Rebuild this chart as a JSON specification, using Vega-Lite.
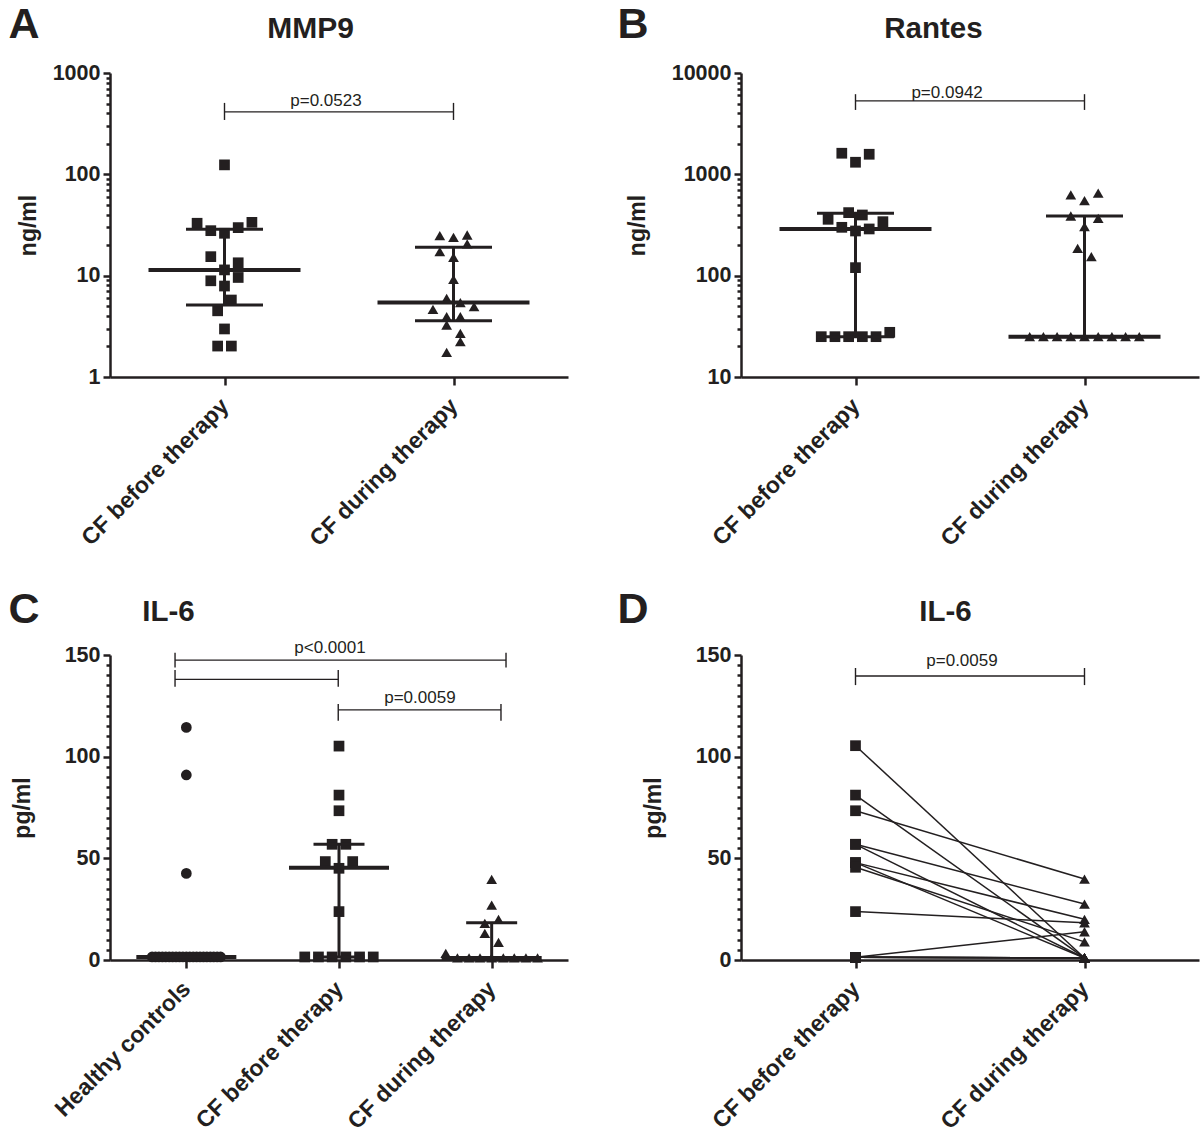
{
  "$schema": "https://vega.github.io/schema/vega-lite/v6.json",
  "background": "white",
  "padding": {"left": 8, "top": 3, "right": 1, "bottom": 4},
  "columns": 2,
  "spacing": {"row": 278, "column": 173},
  "bounds": "flush",
  "config": {
    "font": "Liberation Sans",
    "view": {"stroke": null},
    "axis": {"grid": false, "domainColor": "#231f20", "tickColor": "#231f20", "labelColor": "#231f20", "titleColor": "#231f20", "labelFont": "Liberation Sans", "titleFont": "Liberation Sans", "labelFontWeight": "bold", "titleFontWeight": "bold"}
  },
  "datasets": {
    "pts": [
      {"panel": "A", "group": "CF before therapy", "value": 124, "slot": 0},
      {"panel": "A", "group": "CF before therapy", "value": 32.9, "slot": -4},
      {"panel": "A", "group": "CF before therapy", "value": 33.6, "slot": 4},
      {"panel": "A", "group": "CF before therapy", "value": 27.8, "slot": -2},
      {"panel": "A", "group": "CF before therapy", "value": 29.8, "slot": 2},
      {"panel": "A", "group": "CF before therapy", "value": 26.2, "slot": 0},
      {"panel": "A", "group": "CF before therapy", "value": 15.4, "slot": -2},
      {"panel": "A", "group": "CF before therapy", "value": 13.4, "slot": 2},
      {"panel": "A", "group": "CF before therapy", "value": 11.4, "slot": 0},
      {"panel": "A", "group": "CF before therapy", "value": 8.9, "slot": -2},
      {"panel": "A", "group": "CF before therapy", "value": 9.6, "slot": 2},
      {"panel": "A", "group": "CF before therapy", "value": 7.9, "slot": 0},
      {"panel": "A", "group": "CF before therapy", "value": 5.75, "slot": 1},
      {"panel": "A", "group": "CF before therapy", "value": 4.5, "slot": -1},
      {"panel": "A", "group": "CF before therapy", "value": 2.98, "slot": 0},
      {"panel": "A", "group": "CF before therapy", "value": 2.02, "slot": -1},
      {"panel": "A", "group": "CF before therapy", "value": 2.02, "slot": 1},
      {"panel": "A", "group": "CF during therapy", "value": 24.8, "slot": -2},
      {"panel": "A", "group": "CF during therapy", "value": 23.9, "slot": 0},
      {"panel": "A", "group": "CF during therapy", "value": 25.2, "slot": 2},
      {"panel": "A", "group": "CF during therapy", "value": 20.6, "slot": 2},
      {"panel": "A", "group": "CF during therapy", "value": 17.3, "slot": -2},
      {"panel": "A", "group": "CF during therapy", "value": 15.2, "slot": 0},
      {"panel": "A", "group": "CF during therapy", "value": 9.2, "slot": 0},
      {"panel": "A", "group": "CF during therapy", "value": 5.98, "slot": -1},
      {"panel": "A", "group": "CF during therapy", "value": 5.42, "slot": 1},
      {"panel": "A", "group": "CF during therapy", "value": 4.66, "slot": -3},
      {"panel": "A", "group": "CF during therapy", "value": 4.94, "slot": 3},
      {"panel": "A", "group": "CF during therapy", "value": 3.94, "slot": -1},
      {"panel": "A", "group": "CF during therapy", "value": 3.94, "slot": 1},
      {"panel": "A", "group": "CF during therapy", "value": 3.26, "slot": -1},
      {"panel": "A", "group": "CF during therapy", "value": 2.7, "slot": 1},
      {"panel": "A", "group": "CF during therapy", "value": 2.23, "slot": 1},
      {"panel": "A", "group": "CF during therapy", "value": 1.75, "slot": -1},
      {"panel": "B", "group": "CF before therapy", "value": 1615, "slot": -2},
      {"panel": "B", "group": "CF before therapy", "value": 1578, "slot": 2},
      {"panel": "B", "group": "CF before therapy", "value": 1316, "slot": 0},
      {"panel": "B", "group": "CF before therapy", "value": 419, "slot": -1},
      {"panel": "B", "group": "CF before therapy", "value": 397, "slot": 1},
      {"panel": "B", "group": "CF before therapy", "value": 360, "slot": -4},
      {"panel": "B", "group": "CF before therapy", "value": 341, "slot": 4},
      {"panel": "B", "group": "CF before therapy", "value": 300, "slot": -2},
      {"panel": "B", "group": "CF before therapy", "value": 289, "slot": 2},
      {"panel": "B", "group": "CF before therapy", "value": 276, "slot": 0},
      {"panel": "B", "group": "CF before therapy", "value": 120, "slot": 0},
      {"panel": "B", "group": "CF before therapy", "value": 25, "slot": -5},
      {"panel": "B", "group": "CF before therapy", "value": 25, "slot": -3},
      {"panel": "B", "group": "CF before therapy", "value": 25, "slot": -1},
      {"panel": "B", "group": "CF before therapy", "value": 25, "slot": 1},
      {"panel": "B", "group": "CF before therapy", "value": 25, "slot": 3},
      {"panel": "B", "group": "CF before therapy", "value": 27.6, "slot": 5},
      {"panel": "B", "group": "CF during therapy", "value": 626, "slot": -2},
      {"panel": "B", "group": "CF during therapy", "value": 550, "slot": 0},
      {"panel": "B", "group": "CF during therapy", "value": 651, "slot": 2},
      {"panel": "B", "group": "CF during therapy", "value": 388, "slot": -2},
      {"panel": "B", "group": "CF during therapy", "value": 368, "slot": 2},
      {"panel": "B", "group": "CF during therapy", "value": 305, "slot": 0},
      {"panel": "B", "group": "CF during therapy", "value": 186, "slot": -1},
      {"panel": "B", "group": "CF during therapy", "value": 154, "slot": 1},
      {"panel": "B", "group": "CF during therapy", "value": 25, "slot": -8},
      {"panel": "B", "group": "CF during therapy", "value": 25, "slot": -6},
      {"panel": "B", "group": "CF during therapy", "value": 25, "slot": -4},
      {"panel": "B", "group": "CF during therapy", "value": 25, "slot": -2},
      {"panel": "B", "group": "CF during therapy", "value": 25, "slot": 0},
      {"panel": "B", "group": "CF during therapy", "value": 25, "slot": 2},
      {"panel": "B", "group": "CF during therapy", "value": 25, "slot": 4},
      {"panel": "B", "group": "CF during therapy", "value": 25, "slot": 6},
      {"panel": "B", "group": "CF during therapy", "value": 25, "slot": 8},
      {"panel": "C", "group": "Healthy controls", "value": 114.4, "slot": 0},
      {"panel": "C", "group": "Healthy controls", "value": 91, "slot": 0},
      {"panel": "C", "group": "Healthy controls", "value": 42.6, "slot": 0},
      {"panel": "C", "group": "Healthy controls", "value": 1.5, "slot": -5},
      {"panel": "C", "group": "Healthy controls", "value": 1.5, "slot": -4.5},
      {"panel": "C", "group": "Healthy controls", "value": 1.5, "slot": -4},
      {"panel": "C", "group": "Healthy controls", "value": 1.5, "slot": -3.5},
      {"panel": "C", "group": "Healthy controls", "value": 1.5, "slot": -3},
      {"panel": "C", "group": "Healthy controls", "value": 1.5, "slot": -2.5},
      {"panel": "C", "group": "Healthy controls", "value": 1.5, "slot": -2},
      {"panel": "C", "group": "Healthy controls", "value": 1.5, "slot": -1.5},
      {"panel": "C", "group": "Healthy controls", "value": 1.5, "slot": -1},
      {"panel": "C", "group": "Healthy controls", "value": 1.5, "slot": -0.5},
      {"panel": "C", "group": "Healthy controls", "value": 1.5, "slot": 0},
      {"panel": "C", "group": "Healthy controls", "value": 1.5, "slot": 0.5},
      {"panel": "C", "group": "Healthy controls", "value": 1.5, "slot": 1},
      {"panel": "C", "group": "Healthy controls", "value": 1.5, "slot": 1.5},
      {"panel": "C", "group": "Healthy controls", "value": 1.5, "slot": 2},
      {"panel": "C", "group": "Healthy controls", "value": 1.5, "slot": 2.5},
      {"panel": "C", "group": "Healthy controls", "value": 1.5, "slot": 3},
      {"panel": "C", "group": "Healthy controls", "value": 1.5, "slot": 3.5},
      {"panel": "C", "group": "Healthy controls", "value": 1.5, "slot": 4},
      {"panel": "C", "group": "Healthy controls", "value": 1.5, "slot": 4.5},
      {"panel": "C", "group": "Healthy controls", "value": 1.5, "slot": 5},
      {"panel": "C", "group": "CF before therapy", "value": 105.2, "slot": 0},
      {"panel": "C", "group": "CF before therapy", "value": 81.1, "slot": 0},
      {"panel": "C", "group": "CF before therapy", "value": 73.4, "slot": 0},
      {"panel": "C", "group": "CF before therapy", "value": 56.9, "slot": -1},
      {"panel": "C", "group": "CF before therapy", "value": 56.9, "slot": 1},
      {"panel": "C", "group": "CF before therapy", "value": 48.4, "slot": -2},
      {"panel": "C", "group": "CF before therapy", "value": 48.4, "slot": 2},
      {"panel": "C", "group": "CF before therapy", "value": 45.1, "slot": 0},
      {"panel": "C", "group": "CF before therapy", "value": 23.8, "slot": 0},
      {"panel": "C", "group": "CF before therapy", "value": 1.5, "slot": -5},
      {"panel": "C", "group": "CF before therapy", "value": 1.5, "slot": -3},
      {"panel": "C", "group": "CF before therapy", "value": 1.5, "slot": -1},
      {"panel": "C", "group": "CF before therapy", "value": 1.5, "slot": 1},
      {"panel": "C", "group": "CF before therapy", "value": 1.5, "slot": 3},
      {"panel": "C", "group": "CF before therapy", "value": 1.5, "slot": 5},
      {"panel": "C", "group": "CF during therapy", "value": 39.7, "slot": 0},
      {"panel": "C", "group": "CF during therapy", "value": 27, "slot": 0},
      {"panel": "C", "group": "CF during therapy", "value": 18, "slot": -1},
      {"panel": "C", "group": "CF during therapy", "value": 20, "slot": 1},
      {"panel": "C", "group": "CF during therapy", "value": 13.1, "slot": -1},
      {"panel": "C", "group": "CF during therapy", "value": 8.7, "slot": 1},
      {"panel": "C", "group": "CF during therapy", "value": 3.3, "slot": -6.7},
      {"panel": "C", "group": "CF during therapy", "value": 1, "slot": -5},
      {"panel": "C", "group": "CF during therapy", "value": 1, "slot": -3.3},
      {"panel": "C", "group": "CF during therapy", "value": 1, "slot": -1.7},
      {"panel": "C", "group": "CF during therapy", "value": 1, "slot": 0},
      {"panel": "C", "group": "CF during therapy", "value": 1, "slot": 1.7},
      {"panel": "C", "group": "CF during therapy", "value": 1, "slot": 3.3},
      {"panel": "C", "group": "CF during therapy", "value": 1, "slot": 5},
      {"panel": "C", "group": "CF during therapy", "value": 1, "slot": 6.7}
    ],
    "summ": [
      {"panel": "A", "group": "CF before therapy", "median": 11.4, "q1": 5.14, "q3": 28.7},
      {"panel": "A", "group": "CF during therapy", "median": 5.42, "q1": 3.6, "q3": 19.1},
      {"panel": "B", "group": "CF before therapy", "median": 289, "q1": 25, "q3": 413},
      {"panel": "B", "group": "CF during therapy", "median": 25, "q1": 25, "q3": 388},
      {"panel": "C", "group": "Healthy controls", "median": 1.5, "q1": 1.5, "q3": 1.5},
      {"panel": "C", "group": "CF before therapy", "median": 45.4, "q1": 1.5, "q3": 56.9},
      {"panel": "C", "group": "CF during therapy", "median": 1, "q1": 1, "q3": 18.3}
    ],
    "brk": [
      {"panel": "A", "from": 0, "to": 1, "y": 413, "lo": 344, "hi": 507, "tx": 0.443, "ty": 473, "label": "p=0.0523"},
      {"panel": "B", "from": 0, "to": 1, "y": 5310, "lo": 4320, "hi": 6180, "tx": 0.4, "ty": 5640, "label": "p=0.0942"},
      {"panel": "C", "from": -0.074, "to": 2.094, "y": 147.5, "lo": 143.9, "hi": 151.1, "tx": 0.941, "ty": 151, "label": "p<0.0001"},
      {"panel": "C", "from": -0.074, "to": 0.995, "y": 138, "lo": 134.4, "hi": 142.6, "tx": 0.5, "ty": 142, "label": ""},
      {"panel": "C", "from": 0.995, "to": 2.061, "y": 123, "lo": 117.7, "hi": 125.9, "tx": 1.53, "ty": 126.4, "label": "p=0.0059"},
      {"panel": "D", "from": 0, "to": 1, "y": 139.7, "lo": 135.2, "hi": 143.6, "tx": 0.465, "ty": 144.6, "label": "p=0.0059"}
    ],
    "pairs": [
      {"pair": 1, "group": "CF before therapy", "value": 105.4}, {"pair": 1, "group": "CF during therapy", "value": 1.0},
      {"pair": 2, "group": "CF before therapy", "value": 81.1}, {"pair": 2, "group": "CF during therapy", "value": 1.0},
      {"pair": 3, "group": "CF before therapy", "value": 73.4}, {"pair": 3, "group": "CF during therapy", "value": 39.8},
      {"pair": 4, "group": "CF before therapy", "value": 56.9}, {"pair": 4, "group": "CF during therapy", "value": 27.5},
      {"pair": 5, "group": "CF before therapy", "value": 56.9}, {"pair": 5, "group": "CF during therapy", "value": 1.0},
      {"pair": 6, "group": "CF before therapy", "value": 47.9}, {"pair": 6, "group": "CF during therapy", "value": 20.0},
      {"pair": 7, "group": "CF before therapy", "value": 47.9}, {"pair": 7, "group": "CF during therapy", "value": 1.0},
      {"pair": 8, "group": "CF before therapy", "value": 45.6}, {"pair": 8, "group": "CF during therapy", "value": 8.9},
      {"pair": 9, "group": "CF before therapy", "value": 23.8}, {"pair": 9, "group": "CF during therapy", "value": 18.3},
      {"pair": 10, "group": "CF before therapy", "value": 1.3}, {"pair": 10, "group": "CF during therapy", "value": 13.9},
      {"pair": 11, "group": "CF before therapy", "value": 1.3}, {"pair": 11, "group": "CF during therapy", "value": 1.0},
      {"pair": 12, "group": "CF before therapy", "value": 1.3}, {"pair": 12, "group": "CF during therapy", "value": 1.0},
      {"pair": 13, "group": "CF before therapy", "value": 1.3}, {"pair": 13, "group": "CF during therapy", "value": 1.0},
      {"pair": 14, "group": "CF before therapy", "value": 1.3}, {"pair": 14, "group": "CF during therapy", "value": 1.0},
      {"pair": 15, "group": "CF before therapy", "value": 1.3}, {"pair": 15, "group": "CF during therapy", "value": 1.0}
    ]
  },
  "concat": [
    {
      "width": 458, "height": 304,
      "resolve": {"scale": {"x": "independent"}, "axis": {"x": "independent", "y": "independent"}},
      "layer": [
        {
          "data": {"name": "pts"},
          "transform": [{"filter": "datum.panel === 'A'"}],
          "mark": {"type": "point", "filled": true, "size": 115, "opacity": 1, "color": "#231f20", "strokeWidth": 0},
          "encoding": {
            "x": {"field": "group", "type": "nominal", "scale": {"type": "point", "padding": 0.5, "domain": ["CF before therapy", "CF during therapy"]},
                  "axis": {"orient": "bottom", "title": null, "labelAngle": -45, "labelAlign": "right", "labelBaseline": "middle", "labelPadding": 17, "tickSize": 8, "tickWidth": 2.5, "domainWidth": 2.5, "labelFontSize": 23, "labelLimit": 500, "labelOverlap": false}},
            "xOffset": {"field": "slot", "type": "quantitative", "scale": {"domain": [-10, 10], "range": [-68.5, 68.5]}},
            "y": {"field": "value", "type": "quantitative", "scale": {"type": "log", "domain": [1, 1000], "nice": false},
                  "axis": {"orient": "left", "title": "ng/ml", "values": [1, 2, 3, 4, 5, 6, 7, 8, 9, 10, 20, 30, 40, 50, 60, 70, 80, 90, 100, 200, 300, 400, 500, 600, 700, 800, 900, 1000], "format": "d",
                           "labelExpr": "indexof([1, 10, 100, 1000], datum.value) >= 0 ? datum.label : ''",
                           "tickSize": {"condition": {"test": "indexof([1, 10, 100, 1000], datum.value) >= 0", "value": 7}, "value": 4},
                           "tickWidth": 2.5, "domainWidth": 2.5, "labelPadding": 3, "labelFontSize": 21.5, "titleFontSize": 23, "titlePadding": 12, "labelOverlap": false}},
            "shape": {"field": "group", "type": "nominal", "scale": {"domain": ["Healthy controls", "CF before therapy", "CF during therapy"], "range": ["circle", "square", "triangle-up"]}, "legend": null}
          }
        },
        {
          "data": {"name": "summ"},
          "transform": [{"filter": "datum.panel === 'A'"}],
          "mark": {"type": "tick", "orient": "horizontal", "size": 152, "thickness": 4, "opacity": 1, "color": "#231f20"},
          "encoding": {
            "x": {"field": "group", "type": "nominal", "scale": {"type": "point", "padding": 0.5, "domain": ["CF before therapy", "CF during therapy"]}, "axis": null},
            "y": {"field": "median", "type": "quantitative", "scale": {"type": "log", "domain": [1, 1000], "nice": false},
                  "axis": {"orient": "left", "values": [], "labels": false, "ticks": false, "domain": false, "title": "A", "titleAngle": 0, "titleX": -102, "titleY": -36, "titleAlign": "left", "titleBaseline": "alphabetic", "titleFontSize": 43}}
          }
        },
        {
          "data": {"name": "summ"},
          "transform": [{"filter": "datum.panel === 'A'"}, {"fold": ["q1", "q3"], "as": ["k", "v"]}],
          "mark": {"type": "tick", "orient": "horizontal", "size": 77, "thickness": 3, "opacity": 1, "color": "#231f20"},
          "encoding": {
            "x": {"field": "group", "type": "nominal", "scale": {"type": "point", "padding": 0.5, "domain": ["CF before therapy", "CF during therapy"]}, "axis": null},
            "y": {"field": "v", "type": "quantitative", "axis": null}
          }
        },
        {
          "data": {"name": "summ"},
          "transform": [{"filter": "datum.panel === 'A'"}],
          "mark": {"type": "rule", "strokeWidth": 3, "color": "#231f20"},
          "encoding": {
            "x": {"field": "group", "type": "nominal", "scale": {"type": "point", "padding": 0.5, "domain": ["CF before therapy", "CF during therapy"]}, "axis": null},
            "y": {"field": "q1", "type": "quantitative", "axis": null},
            "y2": {"field": "q3"}
          }
        },
        {
          "data": {"name": "brk"},
          "transform": [{"filter": "datum.panel === 'A'"}],
          "mark": {"type": "rule", "strokeWidth": 1.4, "color": "#231f20"},
          "encoding": {
            "x": {"field": "from", "type": "quantitative", "scale": {"domain": [-0.5, 1.5], "nice": false, "zero": false},
                  "axis": {"orient": "top", "labels": false, "ticks": false, "domain": false, "title": "MMP9", "titleFontSize": 30, "titleX": 200, "titleY": -36, "titleAlign": "center", "titleBaseline": "alphabetic"}},
            "x2": {"field": "to"},
            "y": {"field": "y", "type": "quantitative", "axis": null}
          }
        },
        {
          "data": {"name": "brk"},
          "transform": [{"filter": "datum.panel === 'A'"}, {"fold": ["from", "to"], "as": ["end", "xp"]}],
          "mark": {"type": "rule", "strokeWidth": 1.4, "color": "#231f20"},
          "encoding": {
            "x": {"field": "xp", "type": "quantitative", "scale": {"domain": [-0.5, 1.5], "nice": false, "zero": false}, "axis": null},
            "y": {"field": "lo", "type": "quantitative", "axis": null},
            "y2": {"field": "hi"}
          }
        },
        {
          "data": {"name": "brk"},
          "transform": [{"filter": "datum.panel === 'A' && datum.label !== ''"}],
          "mark": {"type": "text", "fontSize": 17, "fontWeight": "normal", "baseline": "alphabetic", "align": "center", "color": "#231f20"},
          "encoding": {
            "x": {"field": "tx", "type": "quantitative", "scale": {"domain": [-0.5, 1.5], "nice": false, "zero": false}, "axis": null},
            "y": {"field": "ty", "type": "quantitative", "axis": null},
            "text": {"field": "label"}
          }
        }
      ]
    },
    {
      "width": 458, "height": 304,
      "resolve": {"scale": {"x": "independent"}, "axis": {"x": "independent", "y": "independent"}},
      "layer": [
        {
          "data": {"name": "pts"},
          "transform": [{"filter": "datum.panel === 'B'"}],
          "mark": {"type": "point", "filled": true, "size": 115, "opacity": 1, "color": "#231f20", "strokeWidth": 0},
          "encoding": {
            "x": {"field": "group", "type": "nominal", "scale": {"type": "point", "padding": 0.5, "domain": ["CF before therapy", "CF during therapy"]},
                  "axis": {"orient": "bottom", "title": null, "labelAngle": -45, "labelAlign": "right", "labelBaseline": "middle", "labelPadding": 17, "tickSize": 8, "tickWidth": 2.5, "domainWidth": 2.5, "labelFontSize": 23, "labelLimit": 500, "labelOverlap": false}},
            "xOffset": {"field": "slot", "type": "quantitative", "scale": {"domain": [-10, 10], "range": [-68.5, 68.5]}},
            "y": {"field": "value", "type": "quantitative", "scale": {"type": "log", "domain": [10, 10000], "nice": false},
                  "axis": {"orient": "left", "title": "ng/ml", "values": [10, 20, 30, 40, 50, 60, 70, 80, 90, 100, 200, 300, 400, 500, 600, 700, 800, 900, 1000, 2000, 3000, 4000, 5000, 6000, 7000, 8000, 9000, 10000], "format": "d",
                           "labelExpr": "indexof([10, 100, 1000, 10000], datum.value) >= 0 ? datum.label : ''",
                           "tickSize": {"condition": {"test": "indexof([10, 100, 1000, 10000], datum.value) >= 0", "value": 7}, "value": 4},
                           "tickWidth": 2.5, "domainWidth": 2.5, "labelPadding": 3, "labelFontSize": 21.5, "titleFontSize": 23, "titlePadding": 22, "labelOverlap": false}},
            "shape": {"field": "group", "type": "nominal", "scale": {"domain": ["Healthy controls", "CF before therapy", "CF during therapy"], "range": ["circle", "square", "triangle-up"]}, "legend": null}
          }
        },
        {
          "data": {"name": "summ"},
          "transform": [{"filter": "datum.panel === 'B'"}],
          "mark": {"type": "tick", "orient": "horizontal", "size": 152, "thickness": 4, "opacity": 1, "color": "#231f20"},
          "encoding": {
            "x": {"field": "group", "type": "nominal", "scale": {"type": "point", "padding": 0.5, "domain": ["CF before therapy", "CF during therapy"]}, "axis": null},
            "y": {"field": "median", "type": "quantitative", "scale": {"type": "log", "domain": [10, 10000], "nice": false},
                  "axis": {"orient": "left", "values": [], "labels": false, "ticks": false, "domain": false, "title": "B", "titleAngle": 0, "titleX": -124, "titleY": -36, "titleAlign": "left", "titleBaseline": "alphabetic", "titleFontSize": 43}}
          }
        },
        {
          "data": {"name": "summ"},
          "transform": [{"filter": "datum.panel === 'B'"}, {"fold": ["q1", "q3"], "as": ["k", "v"]}],
          "mark": {"type": "tick", "orient": "horizontal", "size": 77, "thickness": 3, "opacity": 1, "color": "#231f20"},
          "encoding": {
            "x": {"field": "group", "type": "nominal", "scale": {"type": "point", "padding": 0.5, "domain": ["CF before therapy", "CF during therapy"]}, "axis": null},
            "y": {"field": "v", "type": "quantitative", "axis": null}
          }
        },
        {
          "data": {"name": "summ"},
          "transform": [{"filter": "datum.panel === 'B'"}],
          "mark": {"type": "rule", "strokeWidth": 3, "color": "#231f20"},
          "encoding": {
            "x": {"field": "group", "type": "nominal", "scale": {"type": "point", "padding": 0.5, "domain": ["CF before therapy", "CF during therapy"]}, "axis": null},
            "y": {"field": "q1", "type": "quantitative", "axis": null},
            "y2": {"field": "q3"}
          }
        },
        {
          "data": {"name": "brk"},
          "transform": [{"filter": "datum.panel === 'B'"}],
          "mark": {"type": "rule", "strokeWidth": 1.4, "color": "#231f20"},
          "encoding": {
            "x": {"field": "from", "type": "quantitative", "scale": {"domain": [-0.5, 1.5], "nice": false, "zero": false},
                  "axis": {"orient": "top", "labels": false, "ticks": false, "domain": false, "title": "Rantes", "titleFontSize": 29.5, "titleX": 192, "titleY": -36, "titleAlign": "center", "titleBaseline": "alphabetic"}},
            "x2": {"field": "to"},
            "y": {"field": "y", "type": "quantitative", "axis": null}
          }
        },
        {
          "data": {"name": "brk"},
          "transform": [{"filter": "datum.panel === 'B'"}, {"fold": ["from", "to"], "as": ["end", "xp"]}],
          "mark": {"type": "rule", "strokeWidth": 1.4, "color": "#231f20"},
          "encoding": {
            "x": {"field": "xp", "type": "quantitative", "scale": {"domain": [-0.5, 1.5], "nice": false, "zero": false}, "axis": null},
            "y": {"field": "lo", "type": "quantitative", "axis": null},
            "y2": {"field": "hi"}
          }
        },
        {
          "data": {"name": "brk"},
          "transform": [{"filter": "datum.panel === 'B' && datum.label !== ''"}],
          "mark": {"type": "text", "fontSize": 17, "fontWeight": "normal", "baseline": "alphabetic", "align": "center", "color": "#231f20"},
          "encoding": {
            "x": {"field": "tx", "type": "quantitative", "scale": {"domain": [-0.5, 1.5], "nice": false, "zero": false}, "axis": null},
            "y": {"field": "ty", "type": "quantitative", "axis": null},
            "text": {"field": "label"}
          }
        }
      ]
    },
    {
      "width": 458, "height": 305,
      "resolve": {"scale": {"x": "independent"}, "axis": {"x": "independent", "y": "independent"}},
      "layer": [
        {
          "data": {"name": "pts"},
          "transform": [{"filter": "datum.panel === 'C'"}],
          "mark": {"type": "point", "filled": true, "size": 115, "opacity": 1, "color": "#231f20", "strokeWidth": 0},
          "encoding": {
            "x": {"field": "group", "type": "nominal", "scale": {"type": "point", "padding": 0.5, "domain": ["Healthy controls", "CF before therapy", "CF during therapy"]},
                  "axis": {"orient": "bottom", "title": null, "labelAngle": -45, "labelAlign": "right", "labelBaseline": "middle", "labelPadding": 17, "tickSize": 8, "tickWidth": 2.5, "domainWidth": 2.5, "labelFontSize": 23, "labelLimit": 500, "labelOverlap": false}},
            "xOffset": {"field": "slot", "type": "quantitative", "scale": {"domain": [-10, 10], "range": [-68.5, 68.5]}},
            "y": {"field": "value", "type": "quantitative", "scale": {"domain": [0, 150], "nice": false},
                  "axis": {"orient": "left", "title": "pg/ml", "values": [0, 5, 10, 15, 20, 25, 30, 35, 40, 45, 50, 55, 60, 65, 70, 75, 80, 85, 90, 95, 100, 105, 110, 115, 120, 125, 130, 135, 140, 145, 150],
                           "labelExpr": "datum.value % 50 === 0 ? datum.label : ''",
                           "tickSize": {"condition": {"test": "datum.value % 50 === 0", "value": 7}, "value": 4},
                           "tickWidth": 2.5, "domainWidth": 2.5, "labelPadding": 3, "labelFontSize": 21.5, "titleFontSize": 23, "titlePadding": 30, "labelOverlap": false}},
            "shape": {"field": "group", "type": "nominal", "scale": {"domain": ["Healthy controls", "CF before therapy", "CF during therapy"], "range": ["circle", "square", "triangle-up"]}, "legend": null}
          }
        },
        {
          "data": {"name": "summ"},
          "transform": [{"filter": "datum.panel === 'C'"}],
          "mark": {"type": "tick", "orient": "horizontal", "size": 100, "thickness": 4, "opacity": 1, "color": "#231f20"},
          "encoding": {
            "x": {"field": "group", "type": "nominal", "scale": {"type": "point", "padding": 0.5, "domain": ["Healthy controls", "CF before therapy", "CF during therapy"]}, "axis": null},
            "y": {"field": "median", "type": "quantitative", "scale": {"domain": [0, 150], "nice": false},
                  "axis": {"orient": "left", "values": [], "labels": false, "ticks": false, "domain": false, "title": "C", "titleAngle": 0, "titleX": -102, "titleY": -33, "titleAlign": "left", "titleBaseline": "alphabetic", "titleFontSize": 43}}
          }
        },
        {
          "data": {"name": "summ"},
          "transform": [{"filter": "datum.panel === 'C'"}, {"fold": ["q1", "q3"], "as": ["k", "v"]}],
          "mark": {"type": "tick", "orient": "horizontal", "size": 51, "thickness": 3, "opacity": 1, "color": "#231f20"},
          "encoding": {
            "x": {"field": "group", "type": "nominal", "scale": {"type": "point", "padding": 0.5, "domain": ["Healthy controls", "CF before therapy", "CF during therapy"]}, "axis": null},
            "y": {"field": "v", "type": "quantitative", "axis": null}
          }
        },
        {
          "data": {"name": "summ"},
          "transform": [{"filter": "datum.panel === 'C'"}],
          "mark": {"type": "rule", "strokeWidth": 3, "color": "#231f20"},
          "encoding": {
            "x": {"field": "group", "type": "nominal", "scale": {"type": "point", "padding": 0.5, "domain": ["Healthy controls", "CF before therapy", "CF during therapy"]}, "axis": null},
            "y": {"field": "q1", "type": "quantitative", "axis": null},
            "y2": {"field": "q3"}
          }
        },
        {
          "data": {"name": "brk"},
          "transform": [{"filter": "datum.panel === 'C'"}],
          "mark": {"type": "rule", "strokeWidth": 1.4, "color": "#231f20"},
          "encoding": {
            "x": {"field": "from", "type": "quantitative", "scale": {"domain": [-0.5, 2.5], "nice": false, "zero": false},
                  "axis": {"orient": "top", "labels": false, "ticks": false, "domain": false, "title": "IL-6", "titleFontSize": 29.5, "titleX": 58, "titleY": -35, "titleAlign": "center", "titleBaseline": "alphabetic"}},
            "x2": {"field": "to"},
            "y": {"field": "y", "type": "quantitative", "axis": null}
          }
        },
        {
          "data": {"name": "brk"},
          "transform": [{"filter": "datum.panel === 'C'"}, {"fold": ["from", "to"], "as": ["end", "xp"]}],
          "mark": {"type": "rule", "strokeWidth": 1.4, "color": "#231f20"},
          "encoding": {
            "x": {"field": "xp", "type": "quantitative", "scale": {"domain": [-0.5, 2.5], "nice": false, "zero": false}, "axis": null},
            "y": {"field": "lo", "type": "quantitative", "axis": null},
            "y2": {"field": "hi"}
          }
        },
        {
          "data": {"name": "brk"},
          "transform": [{"filter": "datum.panel === 'C' && datum.label !== ''"}],
          "mark": {"type": "text", "fontSize": 17, "fontWeight": "normal", "baseline": "alphabetic", "align": "center", "color": "#231f20"},
          "encoding": {
            "x": {"field": "tx", "type": "quantitative", "scale": {"domain": [-0.5, 2.5], "nice": false, "zero": false}, "axis": null},
            "y": {"field": "ty", "type": "quantitative", "axis": null},
            "text": {"field": "label"}
          }
        }
      ]
    },
    {
      "width": 458, "height": 305,
      "resolve": {"scale": {"x": "independent"}, "axis": {"x": "independent", "y": "independent"}},
      "layer": [
        {
          "data": {"name": "pairs"},
          "mark": {"type": "line", "strokeWidth": 1.5, "color": "#231f20"},
          "encoding": {
            "x": {"field": "group", "type": "nominal", "scale": {"type": "point", "padding": 0.5, "domain": ["CF before therapy", "CF during therapy"]},
                  "axis": {"orient": "bottom", "title": null, "labelAngle": -45, "labelAlign": "right", "labelBaseline": "middle", "labelPadding": 17, "tickSize": 8, "tickWidth": 2.5, "domainWidth": 2.5, "labelFontSize": 23, "labelLimit": 500, "labelOverlap": false}},
            "y": {"field": "value", "type": "quantitative", "scale": {"domain": [0, 150], "nice": false},
                  "axis": {"orient": "left", "title": "pg/ml", "values": [0, 5, 10, 15, 20, 25, 30, 35, 40, 45, 50, 55, 60, 65, 70, 75, 80, 85, 90, 95, 100, 105, 110, 115, 120, 125, 130, 135, 140, 145, 150],
                           "labelExpr": "datum.value % 50 === 0 ? datum.label : ''",
                           "tickSize": {"condition": {"test": "datum.value % 50 === 0", "value": 7}, "value": 4},
                           "tickWidth": 2.5, "domainWidth": 2.5, "labelPadding": 3, "labelFontSize": 21.5, "titleFontSize": 23, "titlePadding": 30, "labelOverlap": false}},
            "detail": {"field": "pair", "type": "nominal"}
          }
        },
        {
          "data": {"name": "pairs"},
          "mark": {"type": "point", "filled": true, "size": 115, "opacity": 1, "color": "#231f20", "strokeWidth": 0},
          "encoding": {
            "x": {"field": "group", "type": "nominal", "scale": {"type": "point", "padding": 0.5, "domain": ["CF before therapy", "CF during therapy"]}, "axis": null},
            "y": {"field": "value", "type": "quantitative", "scale": {"domain": [0, 150], "nice": false},
                  "axis": {"orient": "left", "values": [], "labels": false, "ticks": false, "domain": false, "title": "D", "titleAngle": 0, "titleX": -124, "titleY": -33, "titleAlign": "left", "titleBaseline": "alphabetic", "titleFontSize": 43}},
            "shape": {"field": "group", "type": "nominal", "scale": {"domain": ["Healthy controls", "CF before therapy", "CF during therapy"], "range": ["circle", "square", "triangle-up"]}, "legend": null}
          }
        },
        {
          "data": {"name": "brk"},
          "transform": [{"filter": "datum.panel === 'D'"}],
          "mark": {"type": "rule", "strokeWidth": 1.4, "color": "#231f20"},
          "encoding": {
            "x": {"field": "from", "type": "quantitative", "scale": {"domain": [-0.5, 1.5], "nice": false, "zero": false},
                  "axis": {"orient": "top", "labels": false, "ticks": false, "domain": false, "title": "IL-6", "titleFontSize": 29.5, "titleX": 204, "titleY": -35, "titleAlign": "center", "titleBaseline": "alphabetic"}},
            "x2": {"field": "to"},
            "y": {"field": "y", "type": "quantitative", "axis": null}
          }
        },
        {
          "data": {"name": "brk"},
          "transform": [{"filter": "datum.panel === 'D'"}, {"fold": ["from", "to"], "as": ["end", "xp"]}],
          "mark": {"type": "rule", "strokeWidth": 1.4, "color": "#231f20"},
          "encoding": {
            "x": {"field": "xp", "type": "quantitative", "scale": {"domain": [-0.5, 1.5], "nice": false, "zero": false}, "axis": null},
            "y": {"field": "lo", "type": "quantitative", "axis": null},
            "y2": {"field": "hi"}
          }
        },
        {
          "data": {"name": "brk"},
          "transform": [{"filter": "datum.panel === 'D' && datum.label !== ''"}],
          "mark": {"type": "text", "fontSize": 17, "fontWeight": "normal", "baseline": "alphabetic", "align": "center", "color": "#231f20"},
          "encoding": {
            "x": {"field": "tx", "type": "quantitative", "scale": {"domain": [-0.5, 1.5], "nice": false, "zero": false}, "axis": null},
            "y": {"field": "ty", "type": "quantitative", "axis": null},
            "text": {"field": "label"}
          }
        }
      ]
    }
  ]
}
